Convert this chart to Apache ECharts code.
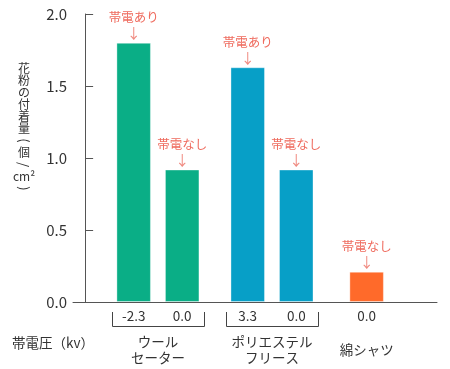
<!DOCTYPE html>
<html>
<head>
<meta charset="utf-8">
<script src="https://cdn.jsdelivr.net/npm/echarts@6/dist/echarts.min.js"></script>
<style>html,body{margin:0;padding:0;background:#fff;}#c{width:450px;height:369px;}</style>
</head>
<body>
<div id="c"></div>
<script>
// ---- data ----
const categories = ['ウール\nセーター', 'ポリエステル\nフリース', '綿シャツ'];
const barGroup = [0, 0, 1, 1, 2];
const conditions = ['帯電あり', '帯電なし', '帯電あり', '帯電なし', '帯電なし'];
const voltages = ['-2.3', '0.0', '3.3', '0.0', '0.0'];
const pollen = [1.8, 0.92, 1.63, 0.92, 0.21];
const yTickValues = [0, 0.5, 1.0, 1.5, 2.0];
const yTitleChars = ['花', '粉', 'の', '付', '着', '量', '(', '個', '/', 'cm²', ')'];
const xTitle = '帯電圧（kv）';

// ---- layout / style ----
const xSlots = [1, 2, 3.35, 4.35, 5.8];
const groupColors = ['#0aae86', '#079fc7', '#ff6a2a'];
const FONT = '"Noto Sans CJK JP", "Noto Sans", sans-serif';
const BAR_W = 34.5;
const TEXT = '#333333';
const NOTE = '#ef6b5e';

const chart = echarts.init(document.getElementById('c'), null, {renderer: 'canvas'});

const barData = pollen.map((v, i) => ({
  value: [xSlots[i], v],
  itemStyle: {color: groupColors[barGroup[i]]},
  label: {formatter: '{t|' + conditions[i] + '}\n{a|↓}'}
}));

const groupData = categories.map((c, g) => [0, 0, g]);

// vertical y-axis title, one glyph per element
const rotated = {'(': -Math.PI / 2, ')': -Math.PI / 2, '/': -Math.PI / 2};
const yTitleGraphics = yTitleChars.map((ch, k) => ({
  type: 'text',
  x: 24, y: 68.5 + k * 12,
  rotation: rotated[ch] || 0,
  style: {text: ch, align: 'center', verticalAlign: 'middle',
          fontSize: rotated[ch] ? 13 : 12, fontFamily: FONT, fill: TEXT}
}));

chart.setOption({
  animation: false,
  textStyle: {fontFamily: FONT},
  grid: {left: 73, right: 13, top: 14, bottom: 67},
  xAxis: {
    type: 'value', min: -0.25, max: 7.25,
    axisLine: {show: true, lineStyle: {color: '#555', width: 1}},
    axisTick: {show: false}, axisLabel: {show: false}, splitLine: {show: false}
  },
  yAxis: {
    type: 'value', min: yTickValues[0], max: yTickValues[yTickValues.length - 1], interval: 0.5,
    axisLine: {show: true, lineStyle: {color: '#555', width: 1}},
    axisTick: {show: true, inside: true, length: 8, lineStyle: {color: '#555'}},
    axisLabel: {formatter: v => v.toFixed(1), fontSize: 15, color: TEXT, margin: 6, fontFamily: FONT},
    splitLine: {show: false}
  },
  series: [
    {
      type: 'bar',
      barWidth: BAR_W,
      data: barData,
      itemStyle: {borderColor: 'rgba(255,255,255,0.35)', borderWidth: 1},
      label: {
        show: true, position: 'top', distance: 3,
        rich: {
          t: {fontSize: 12.5, lineHeight: 17, color: NOTE, fontFamily: FONT},
          a: {fontSize: 14, lineHeight: 14, color: '#f08a80', fontFamily: FONT}
        }
      }
    },
    {
      type: 'custom',
      clip: false,
      silent: true,
      data: groupData,
      renderItem: function (params, api) {
        const g = api.value(2);
        const idx = [];
        barGroup.forEach((v, i) => { if (v === g) idx.push(i); });
        const pts = idx.map(i => api.coord([xSlots[i], 0]));
        const y0 = Math.round(pts[0][1]);
        const children = [];
        if (idx.length > 1) {
          const xl = Math.round(pts[0][0] - BAR_W / 2 - 4.5) + 0.5;
          const xr = Math.round(pts[pts.length - 1][0] + BAR_W / 2 + 4.5) + 0.5;
          children.push({
            type: 'polyline',
            shape: {points: [[xl, y0 + 10], [xl, y0 + 24.5], [xr, y0 + 24.5], [xr, y0 + 10]]},
            style: {stroke: '#444', lineWidth: 1, fill: null}
          });
        }
        idx.forEach((i, k) => {
          children.push({
            type: 'text',
            style: {text: voltages[i], x: pts[k][0], y: y0 + 14, align: 'center', verticalAlign: 'middle',
                    fontSize: 13.5, fontFamily: FONT, fill: TEXT}
          });
        });
        const cx = (pts[0][0] + pts[pts.length - 1][0]) / 2;
        children.push({
          type: 'text',
          style: {text: categories[g], x: cx, y: y0 + 48, align: 'center', verticalAlign: 'middle',
                  fontSize: 13.5, lineHeight: 16.5, fontFamily: FONT, fill: TEXT}
        });
        return {type: 'group', children: children};
      }
    }
  ],
  graphic: [
    {
      type: 'text', left: 12, top: 336,
      style: {text: xTitle, fontSize: 13.5, fontFamily: FONT, fill: TEXT}
    }
  ].concat(yTitleGraphics)
});
</script>
</body>
</html>
